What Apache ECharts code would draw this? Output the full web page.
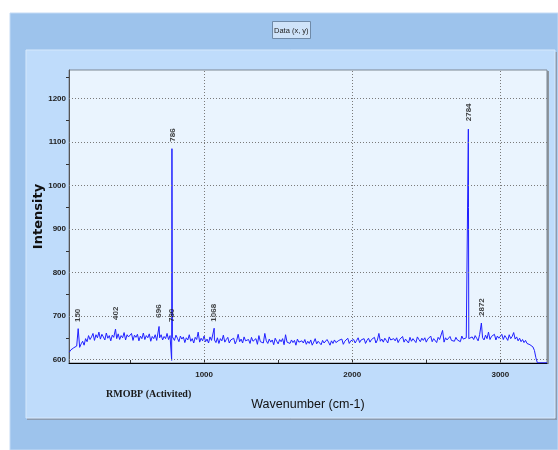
<!DOCTYPE html>
<html><head><meta charset="utf-8">
<script src="https://cdn.jsdelivr.net/npm/echarts@6/dist/echarts.min.js"></script>
<style>html,body{margin:0;padding:0;background:#fff}#c{width:558px;height:450px}</style>
</head><body><div id="c"></div>
<script>
const wavenumber=[90,
100,110,120,130,140,150,160,170,180,190,
200,210,220,230,240,250,260,270,280,290,
300,310,320,330,340,350,360,370,380,390,
402,410,420,430,440,450,460,470,480,490,
500,510,520,530,540,550,560,570,580,590,
600,610,620,630,640,650,660,670,680,696,
700,710,720,730,740,750,760,770,781,783,784,786,
800,810,820,830,840,850,860,870,880,890,
900,910,920,930,940,950,960,970,980,990,
1000,1010,1020,1030,1040,1050,1068,1070,1080,1090,
1100,1110,1120,1130,1140,1150,1160,1170,1180,1190,
1200,1210,1220,1230,1240,1250,1260,1270,1280,1290,
1300,1310,1320,1330,1340,1350,1360,1370,1380,1390,
1400,1410,1420,1430,1440,1450,1460,1470,1480,1490,
1500,1510,1520,1530,1540,1550,1560,1570,1580,1590,
1600,1610,1620,1630,1640,1650,1660,1670,1680,1690,
1700,1710,1720,1730,1740,1750,1760,1770,1780,1790,
1800,1810,1820,1830,1840,1850,1860,1870,1880,1890,
1900,1910,1920,1930,1940,1950,1960,1970,1980,1990,
2000,2010,2020,2030,2040,2050,2060,2070,2080,2090,
2100,2110,2120,2130,2140,2150,2160,2170,2180,2190,
2200,2210,2220,2230,2240,2250,2260,2270,2280,2290,
2300,2310,2320,2330,2340,2350,2360,2370,2380,2390,
2400,2410,2420,2430,2440,2450,2460,2470,2480,2490,
2500,2510,2520,2530,2540,2550,2560,2570,2580,2590,
2600,2610,2620,2630,2640,2650,2660,2670,2680,2690,
2700,2710,2720,2730,2740,2750,2760,2770,2782,2784,2785,2787,
2800,2810,2820,2830,2840,2850,2860,2872,2880,2890,
2900,2910,2920,2930,2940,2950,2960,2970,2980,2990,
3000,3010,3020,3030,3040,3050,3060,3070,3080,3090,
3100,3110,3120,3130,3140,3150,3160,3170,3180,3190,
3200,3210,3220,3230,3240,3250,3315];
const intensity=[617,
622,619,627,624,631,671,628,636,642,633,
648,641,655,646,652,660,644,657,650,663,
647,658,652,645,661,649,655,643,656,651,
670,648,659,646,655,650,662,645,657,652,
649,660,644,656,651,658,643,654,648,661,
646,655,650,659,642,653,648,657,644,676,
650,657,645,653,648,660,646,655,598,1085,962,652,
644,656,649,641,654,647,652,639,650,645,
657,642,648,638,651,646,663,640,649,643,
654,641,647,638,652,644,672,645,639,650,
637,648,643,656,640,646,651,638,645,642,
649,636,644,658,641,647,638,652,643,640,
646,637,651,642,639,648,635,655,641,644,
638,660,643,637,647,640,645,634,649,642,
636,646,641,648,634,657,640,643,637,645,
639,644,633,647,640,636,643,638,646,635,
642,637,645,633,640,648,636,642,639,634,
644,638,635,646,640,633,643,637,645,639,
636,644,641,647,635,642,639,649,637,643,
640,646,638,644,650,639,645,641,648,637,
644,649,640,646,643,651,638,645,660,642,
647,640,649,644,638,652,645,641,648,643,
650,639,646,643,653,640,647,644,638,651,
642,648,645,639,652,646,641,649,644,650,
640,647,643,654,641,648,645,639,651,646,
643,667,640,650,645,641,653,644,648,642,
651,645,649,641,654,647,643,650,646,1130,950,648,
644,652,646,655,649,643,657,684,650,645,
656,648,663,646,653,650,658,645,654,649,
652,658,646,655,650,644,657,648,653,662,
647,652,643,649,641,646,639,644,637,641,
634,637,629,621,604,592.5,592.5];
const peakNames=['150','402','696','780','786','1068','2784','2872'];
const peakX=[150,402,696,780,786,1068,2784,2872];
const peakLabelY=[685,690,695,685,1100,686,1147,699];
const yLabelValues=[600,700,800,900,1000,1100,1200];
const yTickValues=[650,750,850,950,1050,1150,1250];
const xLabelValues=[1000,2000,3000];
const xTickValues=[500,1000,1500,2000,2500,3000];
const yRange=[592,1266];
const xRange=[88,3315];

const sans="'Liberation Sans',Arial,sans-serif";
const chart=echarts.init(document.getElementById('c'),null,{renderer:'canvas'});
const gridMarks=yLabelValues.map(v=>({yAxis:v})).concat(xLabelValues.map(v=>({xAxis:v})));
chart.setOption({
  animation:false,
  backgroundColor:'#ffffff',
  title:[{
    text:'Data (x, y)', left:272, top:21,
    padding:[5,2,4,2], backgroundColor:'#cfe3f9', borderColor:'#6f8aa8', borderWidth:1,
    textStyle:{fontFamily:sans,fontSize:7.5,fontWeight:'normal',color:'#222',lineHeight:9}
  }],
  graphic:[
    {type:'rect',z:-20,shape:{x:10,y:13,width:548,height:437},style:{fill:'#9dc3ec',stroke:'#c4dbf5',lineWidth:1}},
    {type:'rect',z:-19,shape:{x:27,y:52,width:530,height:368},style:{fill:'#8c9cb1'}},
    {type:'rect',z:-18,shape:{x:26,y:50,width:529,height:368},style:{fill:'#bfdcfb',stroke:'#d6e8fc',lineWidth:1}},
    {type:'rect',z:-17,shape:{x:547,y:71,width:2,height:293},style:{fill:'#8f969e'}},
    {type:'text',z:10,left:106,top:389,style:{text:'RMOBP (Activited)',fill:'#1a1a1a',font:"bold 10px 'Liberation Serif','Times New Roman',serif"}}
  ],
  grid:{left:69,top:70,right:11,bottom:87,show:true,backgroundColor:'#eaf4fe',borderColor:'#7d8792',borderWidth:1},
  xAxis:{
    type:'value',min:xRange[0],max:xRange[1],
    splitLine:{show:false},
    axisLine:{show:true,onZero:false,lineStyle:{color:'#000',width:1}},
    axisTick:{show:true,inside:true,length:3,customValues:xTickValues,lineStyle:{color:'#333'}},
    axisLabel:{customValues:xLabelValues,formatter:v=>String(v),margin:8,fontFamily:sans,fontSize:8,fontWeight:'bold',color:'#222'},
    name:'Wavenumber (cm-1)',nameLocation:'middle',nameGap:35,nameMoveOverlap:false,
    nameTextStyle:{fontFamily:sans,fontSize:12.5,color:'#111'}
  },
  yAxis:{
    type:'value',min:yRange[0],max:yRange[1],
    splitLine:{show:false},
    axisLine:{show:true,onZero:false,lineStyle:{color:'#555',width:1}},
    axisTick:{show:true,inside:false,length:3,customValues:yTickValues,lineStyle:{color:'#333'}},
    axisLabel:{customValues:yLabelValues,formatter:v=>String(v),margin:3,fontFamily:sans,fontSize:8,fontWeight:'bold',color:'#222'},
    name:'Intensity',nameLocation:'middle',nameGap:24,nameMoveOverlap:false,
    nameTextStyle:{fontFamily:"'DejaVu Sans',sans-serif",fontSize:13,fontWeight:'bold',color:'#111'}
  },
  series:[
    {type:'line',data:[],z:1,silent:true,
      markLine:{silent:true,symbol:['none','none'],label:{show:false},
        lineStyle:{color:'#7a7a7a',type:[1,2],width:1},data:gridMarks}},
    {type:'line',z:3,symbol:'none',showSymbol:false,clip:true,silent:true,
      data:wavenumber.map((w,i)=>[w,intensity[i]]),
      lineStyle:{color:'#1f1fff',width:1}},
    {type:'scatter',z:4,symbolSize:1,itemStyle:{color:'rgba(0,0,0,0)'},silent:true,
      data:peakX.map((x,i)=>({name:peakNames[i],value:[x,peakLabelY[i]]})),
      label:{show:true,formatter:p=>p.name,rotate:90,position:'top',distance:0,align:'left',verticalAlign:'middle',
        fontFamily:sans,fontSize:8,fontWeight:'bold',color:'#111'}}
  ]
});
</script></body></html>
